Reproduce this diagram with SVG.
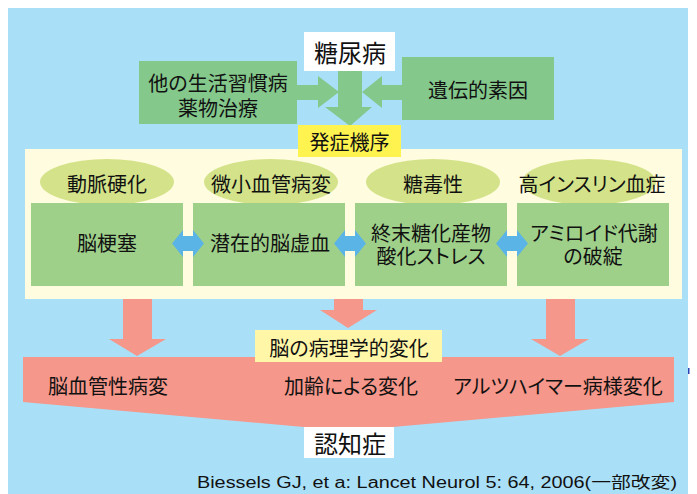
<svg xmlns="http://www.w3.org/2000/svg" width="697" height="494" viewBox="0 0 697 494">
<style>
.jp{font-family:"Noto Sans CJK JP","Noto Sans CJK SC",sans-serif;fill:#111;text-anchor:middle;dominant-baseline:central;font-feature-settings:"palt";}
.f20{font-size:20px;}
.f24{font-size:24px;}
.top{fill:#84c88c;}
.ell{fill:#d4e38a;}
.box{fill:#9fd08a;}
.blue{fill:#5ab4e6;}
.pink{fill:#f5978a;}
</style>
<rect x="0" y="0" width="697" height="494" fill="#ffffff"/>
<rect id="background" x="8" y="8" width="680" height="486" fill="#aadff8"/>
<rect x="688" y="368" width="1.5" height="6" fill="#2a44b8"/>

<g id="connectors">
  <polygon class="top" points="297,85 318,85 318,76 339,92 318,108 318,100 297,100"/>
  <polygon class="top" points="402,85 382,85 382,76 362,92 382,108 382,100 402,100"/>
  <polygon class="top" points="338,71 362,71 362,107 372,107 350,126 325,107 338,107"/>
  <polygon class="pink" points="123,299 152,299 152,339 166,339 137,356 109,339 123,339"/>
  <polygon class="pink" points="334,299 363,299 363,310 377,310 348,328 320,310 334,310"/>
  <polygon class="pink" points="546,299 575,299 575,339 589,339 560,356 531,339 546,339"/>
</g>

<g id="node-diabetes">
  <rect x="304" y="32" width="91" height="39" fill="#ffffff"/>
  <text class="jp f24" x="350" y="51">糖尿病</text>
</g>
<g id="node-lifestyle">
  <rect class="top" x="139" y="61" width="158" height="63"/>
  <text class="jp f20" x="218" y="82">他の生活習慣病</text>
  <text class="jp f20" x="218" y="107">薬物治療</text>
</g>
<g id="node-genetic">
  <rect class="top" x="402" y="57" width="152" height="63"/>
  <text class="jp f20" x="478" y="89">遺伝的素因</text>
</g>

<g id="node-mechanism">
  <rect x="25" y="149" width="657" height="150" fill="#fffce0"/>
  <rect x="298" y="125" width="103" height="32" fill="#fff34f"/>
  <text class="jp f20" x="349.5" y="141">発症機序</text>
</g>

<g id="node-atherosclerosis">
  <ellipse class="ell" cx="107" cy="182" rx="67" ry="23"/>
  <text class="jp f20" x="107" y="183">動脈硬化</text>
</g>
<g id="node-microvascular">
  <ellipse class="ell" cx="271" cy="182" rx="67" ry="23"/>
  <text class="jp f20" x="271" y="183">微小血管病変</text>
</g>
<g id="node-glucotoxicity">
  <ellipse class="ell" cx="433" cy="182" rx="67" ry="23"/>
  <text class="jp f20" x="433" y="183">糖毒性</text>
</g>
<g id="node-hyperinsulinemia">
  <ellipse class="ell" cx="589" cy="182" rx="67" ry="23"/>
  <text class="jp f20" x="592" y="183">高インスリン血症</text>
</g>

<g id="node-infarction">
  <rect class="box" x="31" y="203" width="152" height="83"/>
  <text class="jp f20" x="107" y="242">脳梗塞</text>
</g>
<g id="node-latent-ischemia">
  <rect class="box" x="193" y="203" width="152" height="83"/>
  <text class="jp f20" x="270" y="242">潜在的脳虚血</text>
</g>
<g id="node-age">
  <rect class="box" x="355" y="203" width="152" height="83"/>
  <text class="jp f20" x="431" y="232">終末糖化産物</text>
  <text class="jp f20" x="431" y="255">酸化ストレス</text>
</g>
<g id="node-amyloid">
  <rect class="box" x="517" y="203" width="152" height="83"/>
  <text class="jp f20" x="594" y="232">アミロイド代謝</text>
  <text class="jp f20" x="593" y="255">の破綻</text>
</g>

<g id="double-arrows">
  <polygon class="blue" points="172,243.5 183,230 183,236 193,236 193,230 204,243.5 193,257 193,251 183,251 183,257"/>
  <polygon class="blue" points="334,243.5 345,230 345,236 355,236 355,230 366,243.5 355,257 355,251 345,251 345,257"/>
  <polygon class="blue" points="496,243.5 507,230 507,236 517,236 517,230 528,243.5 517,257 517,251 507,251 507,257"/>
</g>

<g id="node-pathology">
  <polygon class="pink" points="23,357 674,357 674,402 348,431 23,402"/>
  <rect x="255" y="330" width="187" height="32" fill="#fff6a8"/>
  <text class="jp f20" x="349" y="347">脳の病理学的変化</text>
  <text class="jp f20" x="108" y="385">脳血管性病変</text>
  <text class="jp f20" x="351" y="385">加齢による変化</text>
  <text class="jp f20" x="558" y="385">アルツハイマー病様変化</text>
</g>

<g id="node-dementia">
  <rect x="304" y="427" width="90" height="31" fill="#ffffff"/>
  <text class="jp f24" x="350" y="442">認知症</text>
</g>

<text x="197" y="488" font-family="'Liberation Sans','Noto Sans CJK JP',sans-serif" font-size="16" fill="#111" textLength="480" lengthAdjust="spacingAndGlyphs">Biessels GJ, et a: Lancet Neurol 5: 64, 2006(一部改変)</text>
</svg>
